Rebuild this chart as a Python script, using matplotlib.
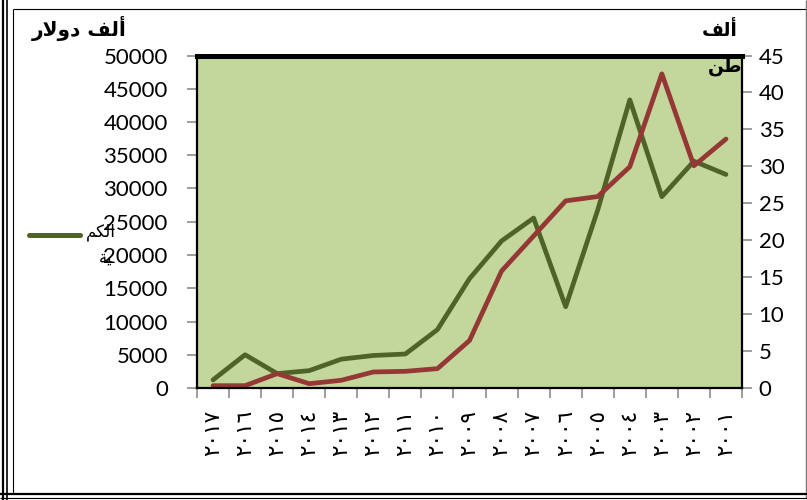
import matplotlib
matplotlib.use("Agg")
import matplotlib.pyplot as plt
from matplotlib.lines import Line2D
import numpy as np

plt.rcParams['font.family'] = ['Lato', 'DejaVu Sans']

# ---- data ----
x_labels = ["٢٠١٧", "٢٠١٦", "٢٠١٥", "٢٠١٤", "٢٠١٣", "٢٠١٢", "٢٠١١", "٢٠١٠", "٢٠٠٩",
            "٢٠٠٨", "٢٠٠٧", "٢٠٠٦", "٢٠٠٥", "٢٠٠٤", "٢٠٠٣", "٢٠٠٢", "٢٠٠١"]
quantity_kt = [1.1, 4.5, 1.95, 2.35, 3.9, 4.4, 4.6, 7.9, 14.8, 19.9, 23.0, 11.0,
               24.1, 39.0, 25.9, 30.7, 28.9]
value_kusd = [350, 350, 2160, 650, 1160, 2410, 2510, 2910, 7140, 17590, 22860,
              28140, 28790, 33270, 47240, 33420, 37440]
left_ticks = [0, 5000, 10000, 15000, 20000, 25000, 30000, 35000, 40000, 45000, 50000]
right_ticks = [0, 5, 10, 15, 20, 25, 30, 35, 40, 45]

# presentation-form (visual order) Arabic strings
left_title = "\uFEAD\uFEFB\uFEED\uFEA9 \uFED2\uFEDF\uFE83"   # ألف دولار
right_title1 = "\uFED2\uFEDF\uFE83"                          # ألف
right_title2 = "\uFEE6\uFEC3"                                # طن
legend_l1 = "\uFEE2\uFEDC\uFEDF\uFE8D"                       # الكم
legend_l2 = "\uFE94\uFEF4"                                   # ية

GREEN = "#4F6228"
RED = "#953735"
BG = "#C3D69B"
TICKC = "#8C8C8C"

W, H = 807, 500
fig = plt.figure(figsize=(W / 100, H / 100), dpi=100)

def fx(x):
    return x / W

def fy(y):
    return 1 - y / H

L, R, T, B = 197, 742, 55.5, 388
ax = fig.add_axes([fx(L), fy(B), (R - L) / W, (B - T) / H])
ax2 = ax.twinx()
ax.set_zorder(ax2.get_zorder() + 1)
ax.patch.set_visible(False)
ax2.patch.set_facecolor(BG)
ax2.patch.set_visible(True)

n = len(x_labels)
xs = np.arange(n)
ax2.plot(xs, quantity_kt, color=GREEN, lw=3.4, solid_joinstyle='round',
         solid_capstyle='round')
ax.plot(xs, value_kusd, color=RED, lw=3.4, solid_joinstyle='round',
        solid_capstyle='round')

ax.set_xlim(-0.5, n - 0.5)
ax.set_ylim(0, 50000)
ax2.set_ylim(0, 45)
ax.set_yticks(left_ticks)
ax.set_yticklabels([str(v) for v in left_ticks])
ax2.set_yticks(right_ticks)
ax2.set_yticklabels([str(v) for v in right_ticks])

ax.set_xticks(xs)
ax.set_xticklabels(x_labels, rotation=90, fontfamily='DejaVu Sans', fontsize=15.5)
ax.set_xticks(np.arange(-0.5, n, 1), minor=True)
ax.tick_params(axis='x', which='major', length=0, pad=16)
ax.tick_params(axis='x', which='minor', length=7, width=1.2, color=TICKC,
               direction='out')
ax.tick_params(axis='y', length=7, width=1.2, color=TICKC, direction='out',
               labelsize=16, pad=14)
ax2.tick_params(axis='y', length=7, width=1.2, color=TICKC, direction='out',
                labelsize=16, pad=5)

for s in ['left', 'right', 'bottom']:
    ax.spines[s].set_linewidth(1.6)
    ax.spines[s].set_color('black')
ax.spines['top'].set_linewidth(3.6)
ax.spines['top'].set_color('black')
for s in ax2.spines.values():
    s.set_visible(False)

# titles
fig.text(fx(79), fy(28), left_title, fontfamily='DejaVu Sans', fontweight='bold',
         fontsize=14.5, ha='center', va='center')
fig.text(fx(720), fy(31), right_title1, fontfamily='DejaVu Sans', fontweight='bold',
         fontsize=13.5, ha='center', va='center')
fig.text(fx(725), fy(66), right_title2, fontfamily='DejaVu Sans', fontweight='bold',
         fontsize=13.5, ha='center', va='center', zorder=10)

# legend
fig.add_artist(Line2D([fx(29), fx(80)], [fy(235), fy(235)], color=GREEN, lw=3.6,
                      solid_capstyle='round'))
fig.text(fx(101), fy(232), legend_l1, fontfamily='DejaVu Sans', fontsize=12,
         ha='center', va='center')
fig.text(fx(106), fy(258), legend_l2, fontfamily='DejaVu Sans', fontsize=12,
         ha='center', va='center')

# outer frame
def fline(x0, y0, x1, y1, lw, color='black'):
    fig.add_artist(Line2D([fx(x0), fx(x1)], [fy(y0), fy(y1)], color=color, lw=lw,
                          solid_capstyle='butt'))

fline(2.5, 0, 2.5, 500, 1.6)
fline(7, 0, 7, 500, 1.2)
fline(12.5, 9, 12.5, 494, 0.8)
fline(12.5, 9, 806, 9, 0.8)
fline(805.5, 0, 805.5, 498, 1.0, '#777777')
fline(0, 494, 807, 494, 1.6)
fline(0, 498, 807, 498, 0.8)

fig.savefig("out.png", dpi=100)
